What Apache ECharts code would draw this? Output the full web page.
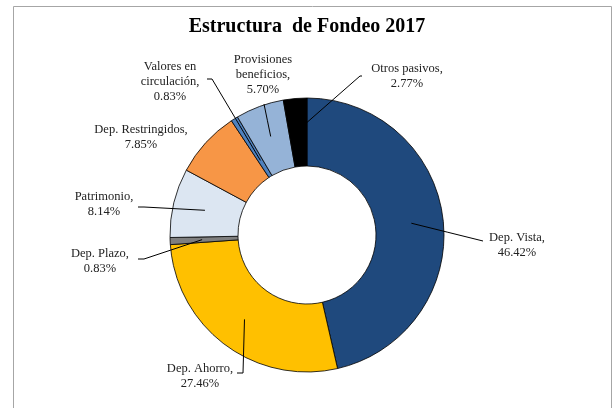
<!DOCTYPE html>
<html><head><meta charset="utf-8">
<script src="https://cdn.jsdelivr.net/npm/echarts@6/dist/echarts.min.js"></script>
<style>html,body{margin:0;padding:0;background:#fff}#c{width:614px;height:408px}</style>
</head><body><div id="c"></div>
<script>
const categories = ['Dep. Vista', 'Dep. Ahorro', 'Dep. Plazo', 'Patrimonio', 'Dep. Restringidos', 'Valores en\ncirculación', 'Provisiones\nbeneficios', 'Otros pasivos'];
const values = [46.42, 27.46, 0.83, 8.14, 7.85, 0.83, 5.70, 2.77];
const colors = ['#1F497D', '#FFC000', '#7F7F7F', '#DCE6F2', '#F79646', '#4F81BD', '#95B3D7', '#000000'];

// label layout (text centre, line attach point on label side, optional elbow, end radius)
const labelPos = [
  {x: 517, y: 245, attach: [483, 241]},
  {x: 200, y: 376, attach: [237, 373], elbow: [243, 373]},
  {x: 100, y: 261, attach: [138, 259], elbow: [144, 259]},
  {x: 104, y: 204, attach: [138, 207], elbow: [144, 207]},
  {x: 141, y: 137, attach: null},
  {x: 170, y: 82, attach: [207, 79], elbow: [212, 79], r: 88},
  {x: 263, y: 75, attach: [264, 104]},
  {x: 407, y: 76, attach: [362, 76], elbow: [360, 76]}
];
const CX = 307, CY = 235, R0 = 69, R1 = 137;
const total = values.reduce((a, b) => a + b, 0);
const midAngles = [];
let cum = 0;
values.forEach(v => { midAngles.push((cum + v / 2) / total * 2 * Math.PI); cum += v; });

const labelFont = {fontFamily: 'Liberation Serif', fontSize: 12.5, color: '#222', lineHeight: 15};

const chart = echarts.init(document.getElementById('c'));
chart.setOption({
  animation: false,
  title: {
    text: 'Estructura  de Fondeo 2017', left: 'center', top: 12,
    textStyle: {fontFamily: 'Liberation Serif', fontWeight: 'bold', fontSize: 20, color: '#000'}
  },
  graphic: [{type: 'rect', shape: {x: 13.5, y: 6.5, width: 598, height: 420}, style: {fill: 'none', stroke: '#a6a6a6', lineWidth: 1}}],
  series: [{
    type: 'pie',
    z: 2,
    center: [CX, CY],
    radius: [R0, R1],
    startAngle: 90,
    clockwise: true,
    label: {show: false},
    labelLine: {show: false},
    itemStyle: {borderColor: '#000', borderWidth: 0.8},
    data: categories.map((n, i) => ({name: n, value: values[i], itemStyle: {color: colors[i]}}))
  }, {
    type: 'pie',
    z: 5,
    silent: true,
    center: [CX, CY],
    radius: [R0, R1],
    startAngle: 90,
    clockwise: true,
    avoidLabelOverlap: false,
    itemStyle: {color: 'rgba(0,0,0,0)', borderWidth: 0},
    label: Object.assign({
      show: true, align: 'center',
      formatter: p => p.name + ',\n' + values[p.dataIndex].toFixed(2) + '%'
    }, labelFont),
    labelLine: {show: true, length: 5, length2: 5, lineStyle: {color: '#000', width: 1}},
    labelLayout: function (params) {
      const i = params.dataIndex;
      const lp = labelPos[i];
      const a = midAngles[i];
      const r = lp.r || ((R0 + R1) / 2 + 2);
      const end = [CX + r * Math.sin(a), CY - r * Math.cos(a)];
      const res = {x: lp.x, y: lp.y, align: 'center', verticalAlign: 'middle'};
      if (lp.attach) {
        const mid = lp.elbow || [(lp.attach[0] + end[0]) / 2, (lp.attach[1] + end[1]) / 2];
        res.labelLinePoints = [end, mid, lp.attach];
      } else {
        res.labelLinePoints = [end, end, end];
      }
      return res;
    },
    data: categories.map((n, i) => ({name: n, value: values[i], labelLine: {show: !!labelPos[i].attach}}))
  }]
});
</script></body></html>
